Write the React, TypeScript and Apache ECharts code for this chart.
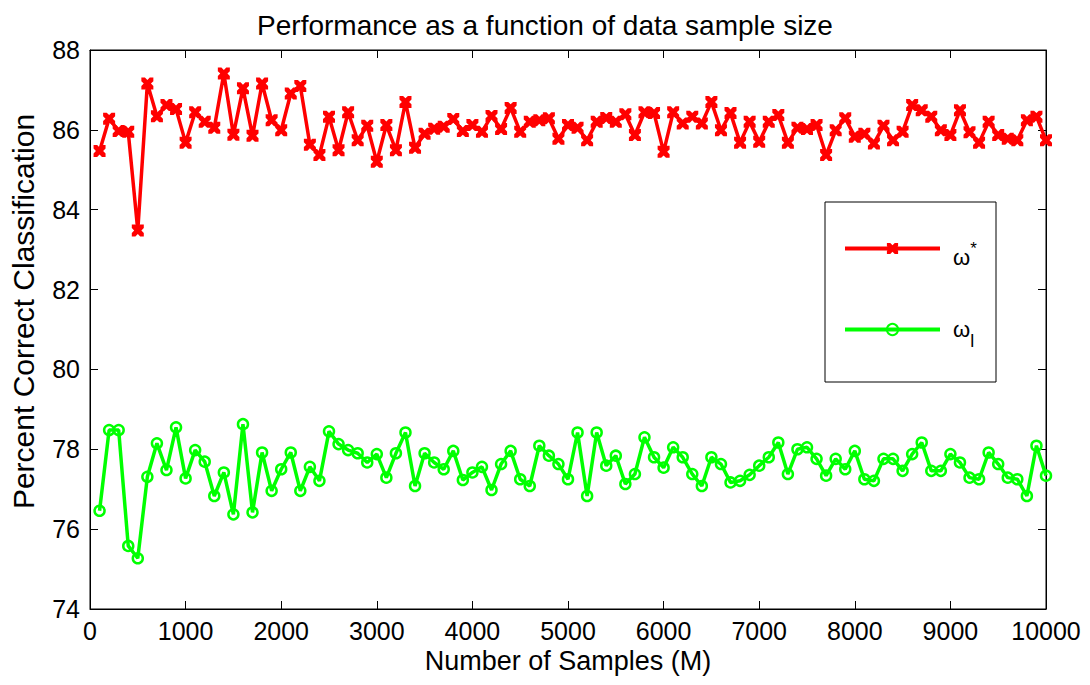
import React, { useEffect, useRef } from 'react';
import * as echarts from 'echarts';

const FONT = "'Liberation Sans', Arial, sans-serif";

// Sample sizes M = 100, 200, ..., 10000
const sampleSizes = Array.from({ length: 100 }, (_, i) => (i + 1) * 100);

// ω* (red, x markers)
const omegaStar = [
  85.47, 86.28, 85.97, 85.95, 83.48, 87.16, 86.34, 86.62, 86.52, 85.68,
  86.44, 86.2, 86.05, 87.41, 85.88, 87.04, 85.85, 87.16, 86.24, 85.99,
  86.91, 87.1, 85.63, 85.37, 86.33, 85.49, 86.44, 85.74, 86.1, 85.2,
  86.12, 85.49, 86.7, 85.55, 85.9, 86.03, 86.08, 86.27, 85.97, 86.12,
  85.95, 86.35, 86.02, 86.55, 85.95, 86.2, 86.24, 86.29, 85.78, 86.12,
  86.05, 85.74, 86.2, 86.3, 86.2, 86.39, 85.87, 86.44, 86.42, 85.45,
  86.44, 86.16, 86.33, 86.16, 86.7, 85.99, 86.42, 85.68, 86.2, 85.7,
  86.2, 86.37, 85.68, 86.05, 86.02, 86.12, 85.37, 85.99, 86.29, 85.83,
  85.9, 85.66, 86.1, 85.74, 85.95, 86.62, 86.49, 86.33, 85.99, 85.87,
  86.49, 85.94, 85.68, 86.2, 85.87, 85.78, 85.74, 86.24, 86.33, 85.74,
];

// ω_l (green, circle markers)
const omegaL = [
  76.46, 78.48, 78.48, 75.58, 75.27, 77.31, 78.15, 77.48, 78.55, 77.27,
  77.98, 77.69, 76.83, 77.42, 76.37, 78.63, 76.42, 77.92, 76.96, 77.5,
  77.92, 76.96, 77.56, 77.21, 78.45, 78.13, 77.98, 77.9, 77.67, 77.88,
  77.29, 77.9, 78.42, 77.08, 77.9, 77.67, 77.5, 77.96, 77.23, 77.42,
  77.56, 76.98, 77.63, 77.96, 77.25, 77.08, 78.09, 77.84, 77.63, 77.25,
  78.42, 76.83, 78.42, 77.59, 77.84, 77.13, 77.38, 78.3, 77.8, 77.54,
  78.05, 77.8, 77.38, 77.08, 77.8, 77.63, 77.17, 77.21, 77.36, 77.59,
  77.8, 78.17, 77.38, 78.0, 78.05, 77.76, 77.34, 77.76, 77.5, 77.96,
  77.25, 77.21, 77.76, 77.76, 77.46, 77.88, 78.17, 77.46, 77.46, 77.88,
  77.67, 77.29, 77.25, 77.92, 77.63, 77.29, 77.25, 76.83, 78.09, 77.34,
];

const seriesNames = ['ω*', 'ωl'];
const xRange = [0, 10000, 1000];
const yRange = [74, 88, 2];

const X_PATH =
  'path://M0 0 L3 0 L5 2 L7 0 L10 0 L10 3 L8 5 L10 7 L10 10 L7 10 L5 8 L3 10 L0 10 L0 7 L2 5 L0 3 Z';

export default function App() {
  const ref = useRef<HTMLDivElement>(null);

  useEffect(() => {
    if (!ref.current) return;
    const chart = echarts.init(ref.current, undefined, { renderer: 'svg' });

    const tickStyle = { show: true, inside: true, length: 8, lineStyle: { color: '#000', width: 1 } };
    const lineAx = { show: true, onZero: false, lineStyle: { color: '#000', width: 1 } };

    chart.setOption({
      animation: false,
      backgroundColor: '#ffffff',
      textStyle: { fontFamily: FONT, color: '#000' },
      title: {
        text: 'Performance as a function of data sample size',
        left: 'center',
        top: 6,
        textStyle: { fontFamily: FONT, fontSize: 28, fontWeight: 'normal', color: '#000' },
      },
      grid: {
        left: 88,
        right: 44,
        top: 50,
        bottom: 76,
        show: true,
        borderColor: '#000',
        borderWidth: 1,
        backgroundColor: '#fff',
      },
      xAxis: [
        {
          type: 'value',
          min: xRange[0],
          max: xRange[1],
          interval: xRange[2],
          position: 'bottom',
          name: 'Number of Samples (M)',
          nameLocation: 'middle',
          nameGap: 37,
          nameTextStyle: { fontFamily: FONT, fontSize: 27, color: '#000' },
          axisLine: lineAx,
          axisTick: tickStyle,
          axisLabel: {
            fontFamily: FONT,
            fontSize: 25,
            color: '#000',
            margin: 9,
            formatter: (v: number) => String(v),
          },
          splitLine: { show: false },
        },
        {
          type: 'value',
          min: xRange[0],
          max: xRange[1],
          interval: xRange[2],
          position: 'top',
          axisLine: lineAx,
          axisTick: tickStyle,
          axisLabel: { show: false },
          splitLine: { show: false },
        },
      ],
      yAxis: [
        {
          type: 'value',
          min: yRange[0],
          max: yRange[1],
          interval: yRange[2],
          position: 'left',
          name: 'Percent Correct Classification',
          nameLocation: 'middle',
          nameGap: 52,
          nameTextStyle: { fontFamily: FONT, fontSize: 30, color: '#000', padding: [0, 0, 0, 36] },
          axisLine: lineAx,
          axisTick: tickStyle,
          axisLabel: { fontFamily: FONT, fontSize: 25, color: '#000', margin: 10 },
          splitLine: { show: false },
        },
        {
          type: 'value',
          min: yRange[0],
          max: yRange[1],
          interval: yRange[2],
          position: 'right',
          axisLine: lineAx,
          axisTick: tickStyle,
          axisLabel: { show: false },
          splitLine: { show: false },
        },
      ],
      legend: {
        orient: 'vertical',
        left: 843,
        top: 240,
        padding: 0,
        itemWidth: 95,
        itemHeight: 14,
        itemGap: 50,
        data: seriesNames,
        selectedMode: false,
        lineStyle: { width: 4 },
        formatter: (name: string) =>
          name === seriesNames[0] ? '{ws|ω}{st|*}' : '{wl|ω}{sb|l}',
        textStyle: {
          fontFamily: FONT,
          color: '#000',
          rich: {
            ws: { fontFamily: FONT, fontSize: 22, lineHeight: 24, verticalAlign: 'bottom', padding: [0, 0, 0, 8] },
            st: { fontFamily: FONT, fontSize: 17, lineHeight: 40 },
            wl: { fontFamily: FONT, fontSize: 22, lineHeight: 40, padding: [0, 0, 0, 8] },
            sb: { fontFamily: FONT, fontSize: 18, lineHeight: 18, verticalAlign: 'bottom' },
          },
        },
      },
      graphic: [
        {
          type: 'rect',
          z: 3,
          shape: { x: 825, y: 202, width: 171, height: 180 },
          style: { fill: '#fff', stroke: '#000', lineWidth: 1 },
        },
      ],
      series: [
        {
          name: seriesNames[0],
          type: 'line',
          data: sampleSizes.map((x, i) => [x, omegaStar[i]]),
          symbol: X_PATH,
          symbolSize: 12,
          showAllSymbol: true,
          lineStyle: { color: '#ff0000', width: 3.5 },
          itemStyle: { color: '#ff0000' },
          emphasis: { disabled: true },
        },
        {
          name: seriesNames[1],
          type: 'line',
          data: sampleSizes.map((x, i) => [x, omegaL[i]]),
          symbol: 'circle',
          symbolSize: 10,
          showAllSymbol: true,
          lineStyle: { color: '#00ff00', width: 3.5 },
          itemStyle: { color: 'rgba(0,0,0,0)', borderColor: '#00ff00', borderWidth: 2.5 },
          emphasis: { disabled: true },
        },
      ],
    });

    return () => chart.dispose();
  }, []);

  return (
    <div
      ref={ref}
      style={{ position: 'fixed', left: 0, top: 0, width: 1090, height: 685, background: '#fff' }}
    />
  );
}
